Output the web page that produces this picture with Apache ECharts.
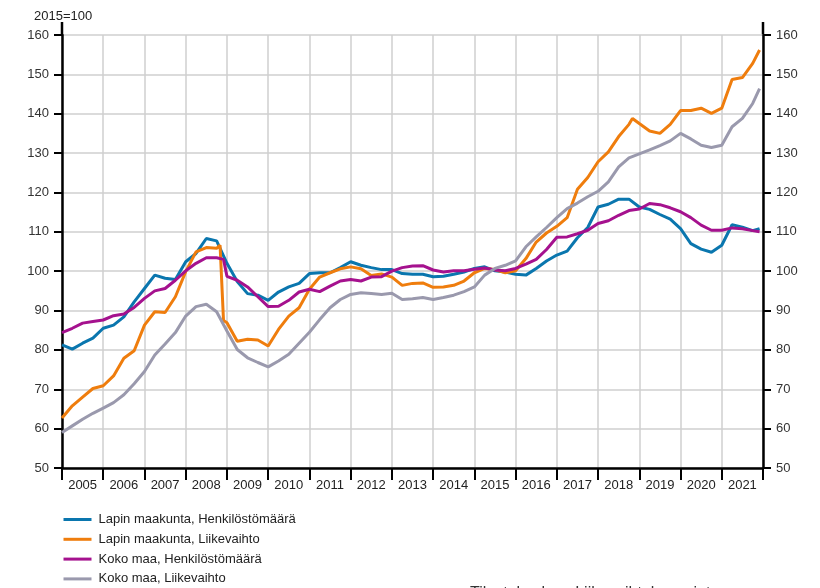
<!DOCTYPE html>
<html>
<head>
<meta charset="utf-8">
<script src="https://cdn.jsdelivr.net/npm/echarts@6/dist/echarts.min.js"></script>
<style>
  html, body { margin: 0; background: #fff; }
  #chart { width: 820px; height: 588px; }
</style>
</head>
<body>
<div id="chart"></div>
<script>
// vuosiotsikot x-akselille
const years = ['2005', '2006', '2007', '2008', '2009', '2010', '2011', '2012', '2013',
  '2014', '2015', '2016', '2017', '2018', '2019', '2020', '2021']

const seriesNames = [
  'Lapin maakunta, Henkilöstömäärä',
  'Lapin maakunta, Liikevaihto',
  'Koko maa, Henkilöstömäärä',
  'Koko maa, Liikevaihto'
]

// [kuukausi, indeksi 2015=100]
const lapinHenkilosto = [
  ['2005-01', 81.3], ['2005-04', 80.2], ['2005-07', 81.7], ['2005-10', 83.0],
  ['2006-01', 85.5], ['2006-04', 86.3], ['2006-07', 88.4], ['2006-10', 92.2],
  ['2007-01', 95.6], ['2007-04', 99.0], ['2007-07', 98.2], ['2007-10', 97.9],
  ['2008-01', 102.4], ['2008-04', 104.5], ['2008-07', 108.3], ['2008-10', 107.7],
  ['2009-01', 102.0], ['2009-04', 97.4], ['2009-07', 94.3], ['2009-10', 93.9],
  ['2010-01', 92.6], ['2010-04', 94.7], ['2010-07', 96.0], ['2010-10', 96.9],
  ['2011-01', 99.4], ['2011-04', 99.6], ['2011-07', 99.6], ['2011-10', 100.9],
  ['2012-01', 102.4], ['2012-04', 101.5], ['2012-07', 100.9], ['2012-10', 100.4],
  ['2013-01', 100.4], ['2013-04', 99.4], ['2013-07', 99.2], ['2013-10', 99.2],
  ['2014-01', 98.6], ['2014-04', 98.7], ['2014-07', 99.2], ['2014-10', 99.8],
  ['2015-01', 100.7], ['2015-04', 101.1], ['2015-07', 100.1], ['2015-10', 99.8],
  ['2016-01', 99.2], ['2016-04', 99.0], ['2016-07', 100.7], ['2016-10', 102.6],
  ['2017-01', 104.1], ['2017-04', 105.1], ['2017-07', 108.5], ['2017-10', 111.1],
  ['2018-01', 116.3], ['2018-04', 117.0], ['2018-07', 118.3], ['2018-10', 118.3],
  ['2019-01', 116.3], ['2019-04', 115.7], ['2019-07', 114.4], ['2019-10', 113.2],
  ['2020-01', 110.8], ['2020-04', 107.0], ['2020-07', 105.6], ['2020-10', 104.8],
  ['2021-01', 106.6], ['2021-04', 111.8], ['2021-07', 111.2], ['2021-10', 110.3],
  ['2021-12', 110.8]
]

const lapinLiikevaihto = [
  ['2005-01', 62.7], ['2005-04', 65.8], ['2005-07', 68.0], ['2005-10', 70.2],
  ['2006-01', 70.9], ['2006-04', 73.4], ['2006-07', 77.9], ['2006-10', 79.8],
  ['2007-01', 86.3], ['2007-04', 89.7], ['2007-07', 89.5], ['2007-10', 93.5],
  ['2008-01', 99.9], ['2008-04', 104.9], ['2008-07', 106.0], ['2008-10', 105.8],
  ['2008-11', 106.6], ['2008-12', 87.5],
  ['2009-01', 86.9], ['2009-04', 82.2], ['2009-07', 82.7], ['2009-10', 82.5],
  ['2010-01', 81.0], ['2010-04', 85.2], ['2010-07', 88.6], ['2010-10', 90.7],
  ['2011-01', 95.4], ['2011-04', 98.5], ['2011-07', 99.6], ['2011-10', 100.6],
  ['2012-01', 101.1], ['2012-04', 100.6], ['2012-07', 98.9], ['2012-10', 99.3],
  ['2013-01', 98.5], ['2013-04', 96.4], ['2013-07', 96.9], ['2013-10', 97.0],
  ['2014-01', 95.9], ['2014-04', 96.0], ['2014-07', 96.4], ['2014-10', 97.5],
  ['2015-01', 99.6], ['2015-04', 100.7], ['2015-07', 100.4], ['2015-10', 99.6],
  ['2016-01', 100.1], ['2016-04', 103.2], ['2016-07', 107.4], ['2016-10', 109.7],
  ['2017-01', 111.4], ['2017-04', 113.6], ['2017-07', 120.8], ['2017-10', 123.8],
  ['2018-01', 127.8], ['2018-04', 130.3], ['2018-07', 134.2], ['2018-10', 137.3],
  ['2018-11', 138.8],
  ['2019-01', 137.5], ['2019-04', 135.6], ['2019-07', 135.0], ['2019-10', 137.3],
  ['2020-01', 140.8], ['2020-04', 140.8], ['2020-07', 141.4], ['2020-10', 140.1],
  ['2021-01', 141.4], ['2021-04', 148.7], ['2021-07', 149.2], ['2021-10', 152.8],
  ['2021-12', 156.2]
]

const kokoHenkilosto = [
  ['2005-01', 84.4], ['2005-04', 85.5], ['2005-07', 86.8], ['2005-10', 87.2],
  ['2006-01', 87.6], ['2006-04', 88.7], ['2006-07', 89.1], ['2006-10', 90.8],
  ['2007-01', 93.1], ['2007-04', 95.0], ['2007-07', 95.6], ['2007-10', 97.7],
  ['2008-01', 100.1], ['2008-04', 102.0], ['2008-07', 103.4], ['2008-10', 103.4],
  ['2008-12', 103.0],
  ['2009-01', 98.7], ['2009-04', 97.7], ['2009-07', 96.0], ['2009-10', 93.5],
  ['2010-01', 91.0], ['2010-04', 91.1], ['2010-07', 92.6], ['2010-10', 94.7],
  ['2011-01', 95.4], ['2011-04', 94.8], ['2011-07', 96.2], ['2011-10', 97.5],
  ['2012-01', 97.9], ['2012-04', 97.5], ['2012-07', 98.5], ['2012-10', 98.6],
  ['2013-01', 100.0], ['2013-04', 100.9], ['2013-07', 101.3], ['2013-10', 101.4],
  ['2014-01', 100.3], ['2014-04', 99.8], ['2014-07', 100.1], ['2014-10', 100.1],
  ['2015-01', 100.5], ['2015-04', 100.8], ['2015-07', 100.3], ['2015-10', 100.1],
  ['2016-01', 100.7], ['2016-04', 101.8], ['2016-07', 103.0], ['2016-10', 105.5],
  ['2017-01', 108.6], ['2017-04', 108.7], ['2017-07', 109.5], ['2017-10', 110.4],
  ['2018-01', 112.1], ['2018-04', 112.8], ['2018-07', 114.2], ['2018-10', 115.4],
  ['2019-01', 115.8], ['2019-04', 117.2], ['2019-07', 116.9],
  ['2019-10', 116.1],
  ['2020-01', 115.1], ['2020-04', 113.6], ['2020-07', 111.7], ['2020-10', 110.4],
  ['2021-01', 110.4], ['2021-04', 111.0], ['2021-07', 110.8], ['2021-10', 110.3],
  ['2021-12', 110.0]
]

const kokoLiikevaihto = [
  ['2005-01', 59.0], ['2005-04', 60.7], ['2005-07', 62.4], ['2005-10', 63.9],
  ['2006-01', 65.2], ['2006-04', 66.6], ['2006-07', 68.6], ['2006-10', 71.4],
  ['2007-01', 74.5], ['2007-04', 78.7], ['2007-07', 81.5], ['2007-10', 84.4],
  ['2008-01', 88.6], ['2008-04', 91.0], ['2008-07', 91.6], ['2008-10', 89.7],
  ['2009-01', 84.8], ['2009-04', 80.1], ['2009-07', 78.0], ['2009-10', 76.8],
  ['2010-01', 75.7], ['2010-04', 77.2], ['2010-07', 78.9], ['2010-10', 81.7],
  ['2011-01', 84.5], ['2011-04', 87.7], ['2011-07', 90.7], ['2011-10', 92.8],
  ['2012-01', 94.1], ['2012-04', 94.5], ['2012-07', 94.3], ['2012-10', 94.1],
  ['2013-01', 94.4], ['2013-04', 92.8], ['2013-07', 93.0], ['2013-10', 93.3],
  ['2014-01', 92.8], ['2014-04', 93.3], ['2014-07', 93.9], ['2014-10', 94.8],
  ['2015-01', 96.0], ['2015-04', 99.0], ['2015-07', 100.7], ['2015-10', 101.5],
  ['2016-01', 102.6], ['2016-04', 106.2], ['2016-07', 108.7], ['2016-10', 111.1],
  ['2017-01', 113.6], ['2017-04', 115.9], ['2017-07', 117.3], ['2017-10', 118.9],
  ['2018-01', 120.3], ['2018-04', 122.7], ['2018-07', 126.5], ['2018-10', 128.8],
  ['2019-01', 129.8], ['2019-04', 130.8], ['2019-07', 131.9], ['2019-10', 133.1],
  ['2020-01', 135.0], ['2020-04', 133.6], ['2020-07', 132.0], ['2020-10', 131.4],
  ['2021-01', 132.0], ['2021-04', 136.7], ['2021-07', 138.8], ['2021-10', 142.6],
  ['2021-12', 146.4]
]

const colors = ['#0A76AE', '#EF7D0D', '#A5118E', '#9A99AD']
const font = "'Liberation Sans', Arial, sans-serif"

// '2008-07' -> 2008.5
function toYear(p) {
  const [y, m] = p[0].split('-').map(Number)
  return [y + (m - 1) / 12, p[1]]
}

const chart = echarts.init(document.getElementById('chart'))

const yAxisBase = {
  type: 'value',
  min: 50,
  max: 160,
  interval: 10,
  axisLine: { show: true, lineStyle: { color: '#000', width: 2.5 } },
  axisTick: { show: true, length: 8, lineStyle: { color: '#000', width: 2 } },
  axisLabel: { fontFamily: font, fontSize: 13, color: '#333', margin: 13 }
}

const option = {
  animation: false,
  color: colors,
  title: {
    text: '2015=100',
    left: 29,
    top: 5,
    textStyle: { fontFamily: font, fontSize: 13, fontWeight: 'normal', color: '#222' }
  },
  grid: { left: 62, right: 57, top: 35, bottom: 120 },
  legend: {
    orient: 'vertical',
    left: 62,
    top: 513,
    padding: 0,
    itemWidth: 28,
    itemHeight: 14,
    itemGap: 6.8,
    itemStyle: { opacity: 0 },
    lineStyle: { width: 3 },
    textStyle: { fontFamily: font, fontSize: 13, color: '#222', padding: [0, 0, 0, 2] },
    data: seriesNames
  },
  xAxis: [
    {
      type: 'value',
      min: 2005,
      max: 2022,
      interval: 1,
      position: 'bottom',
      axisLine: { lineStyle: { color: '#000', width: 2.5 } },
      axisTick: { show: true, length: 12, lineStyle: { color: '#000', width: 2 } },
      axisLabel: { show: false },
      splitLine: { show: true, lineStyle: { color: '#cfcfcf', width: 1.5 } }
    },
    {
      type: 'category',
      data: years,
      position: 'bottom',
      boundaryGap: true,
      axisLine: { show: false },
      axisTick: { show: false },
      splitLine: { show: false },
      axisLabel: { fontFamily: font, fontSize: 13, color: '#222', margin: 11 }
    }
  ],
  yAxis: [
    Object.assign({}, yAxisBase, {
      position: 'left',
      splitLine: { show: true, lineStyle: { color: '#cfcfcf', width: 1.5 } }
    }),
    Object.assign({}, yAxisBase, {
      position: 'right',
      splitLine: { show: false }
    })
  ],
  series: [lapinHenkilosto, lapinLiikevaihto, kokoHenkilosto, kokoLiikevaihto].map((d, i) => ({
    name: seriesNames[i],
    type: 'line',
    xAxisIndex: 0,
    yAxisIndex: 0,
    symbol: 'none',
    lineStyle: { width: 3, color: colors[i] },
    data: d.map(toYear)
  })),
  graphic: [
    // akseliviivat jatkuvat hieman ylimmän arvon yli
    { type: 'line', shape: { x1: 62, y1: 22, x2: 62, y2: 36 }, style: { stroke: '#000', lineWidth: 2.5 } },
    { type: 'line', shape: { x1: 763, y1: 22, x2: 763, y2: 36 }, style: { stroke: '#000', lineWidth: 2.5 } },
    {
      type: 'text',
      left: 470,
      top: 586,
      style: {
        text: 'Tilastokeskus, Liikevaihtokuvaajat',
        font: '16px ' + font,
        fill: '#333'
      }
    }
  ]
}

chart.setOption(option)
</script>
</body>
</html>
